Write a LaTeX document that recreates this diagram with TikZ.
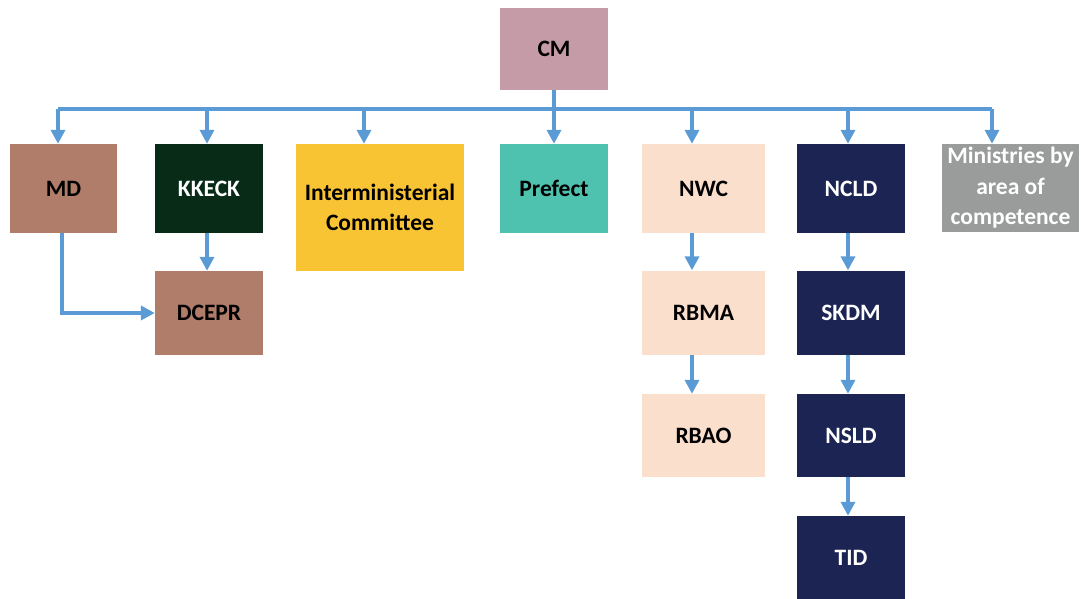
\documentclass[tikz,border=0pt]{standalone}
\usepackage{fontspec}
\setmainfont{Carlito}
\usetikzlibrary{arrows.meta}

\definecolor{cmrose}{HTML}{C49BA6}
\definecolor{mdbrown}{HTML}{B07D6B}
\definecolor{kkgreen}{HTML}{072B17}
\definecolor{imyellow}{HTML}{F9C433}
\definecolor{prteal}{HTML}{4FC1AF}
\definecolor{wcpeach}{HTML}{FBDFCD}
\definecolor{ldnavy}{HTML}{1C2453}
\definecolor{mingray}{HTML}{9A9B9B}
\definecolor{linkblue}{HTML}{5B9BD5}

\tikzset{
  orgbox/.style={rectangle, inner sep=0pt, align=center,
    font=\fontsize{23.5}{30.5}\selectfont\bfseries},
  darkbox/.style={orgbox, text=white},
  lightbox/.style={orgbox, text=black},
  link/.style={draw=linkblue, line width=4pt,
    -{Triangle[width=14pt,length=14pt]}},
  busline/.style={draw=linkblue, line width=4pt},
}

\begin{document}
\begin{tikzpicture}[x=1pt,y=-1pt]
\useasboundingbox (0,0) rectangle (1081,599);

% top level
\node[lightbox, fill=cmrose, minimum width=108pt, minimum height=82pt] (cm) at (554,49) {CM};

% second level
\node[lightbox, fill=mdbrown, minimum width=107pt, minimum height=89pt] (md) at (63.5,188.5) {MD};
\node[darkbox, fill=kkgreen, minimum width=108pt, minimum height=89pt] (kkeck) at (209,188.5) {KKECK};
\node[lightbox, fill=imyellow, minimum width=168pt, minimum height=127pt] (inter) at (380,207.5) {Interministerial\\Committee};
\node[lightbox, fill=prteal, minimum width=108pt, minimum height=89pt] (prefect) at (554,188.5) {Prefect};
\node[lightbox, fill=wcpeach, minimum width=123pt, minimum height=89pt] (nwc) at (703.5,188.5) {NWC};
\node[darkbox, fill=ldnavy, minimum width=108pt, minimum height=89pt] (ncld) at (851,188.5) {NCLD};
\node[darkbox, fill=mingray, minimum width=137pt, minimum height=88pt] (min) at (1010.5,188) {Ministries by\\area of\\competence};

% lower levels
\node[lightbox, fill=mdbrown, minimum width=108pt, minimum height=84pt] (dcepr) at (209,313) {DCEPR};
\node[lightbox, fill=wcpeach, minimum width=123pt, minimum height=84pt] (rbma) at (703.5,312.5) {RBMA};
\node[lightbox, fill=wcpeach, minimum width=123pt, minimum height=83pt] (rbao) at (703.5,435.5) {RBAO};
\node[darkbox, fill=ldnavy, minimum width=108pt, minimum height=84pt] (skdm) at (851,312.5) {SKDM};
\node[darkbox, fill=ldnavy, minimum width=108pt, minimum height=83pt] (nsld) at (851,435.5) {NSLD};
\node[darkbox, fill=ldnavy, minimum width=108pt, minimum height=83pt] (tid) at (851,557.5) {TID};

% distribution bus below CM
\coordinate (b1) at (58,109);
\coordinate (b2) at (207,109);
\coordinate (b3) at (364,109);
\coordinate (b5) at (692,109);
\coordinate (b6) at (848,109);
\coordinate (b7) at (992,109);
\coordinate (mdx) at (62,0);

\draw[busline] (b1) -- (b7);
\draw[link] (cm.south) -- (prefect.north);
\draw[link] (b1) -- (b1 |- md.north);
\draw[link] (b2) -- (b2 |- kkeck.north);
\draw[link] (b3) -- (b3 |- inter.north);
\draw[link] (b5) -- (b5 |- nwc.north);
\draw[link] (b6) -- (b6 |- ncld.north);
\draw[link] (b7) -- (b7 |- min.north);

% chains
\draw[link] (kkeck.south -| b2) -- (dcepr.north -| b2);
\draw[link] (md.south -| mdx) |- (dcepr.west);
\draw[link] (nwc.south -| b5) -- (rbma.north -| b5);
\draw[link] (rbma.south -| b5) -- (rbao.north -| b5);
\draw[link] (ncld.south -| b6) -- (skdm.north -| b6);
\draw[link] (skdm.south -| b6) -- (nsld.north -| b6);
\draw[link] (nsld.south -| b6) -- (tid.north -| b6);
\end{tikzpicture}
\end{document}
